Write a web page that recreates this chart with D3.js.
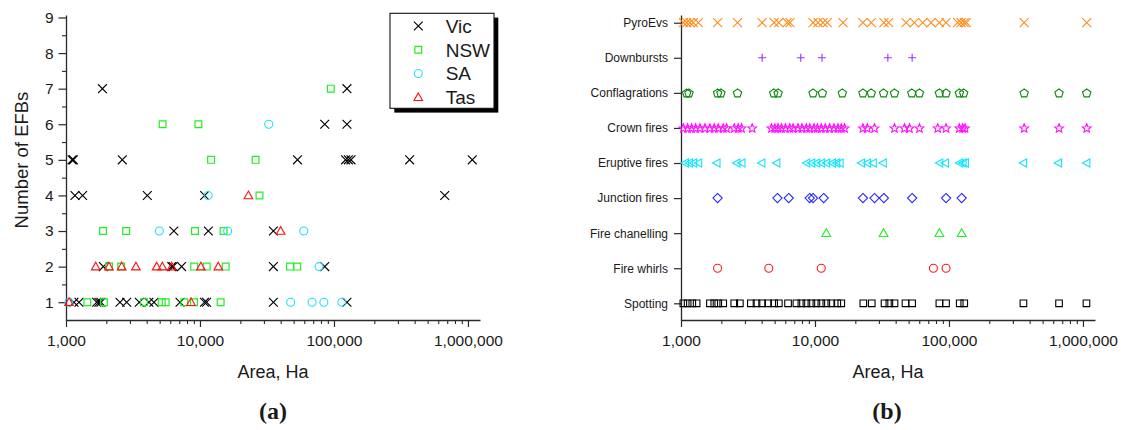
<!DOCTYPE html>
<html><head><meta charset="utf-8">
<script src="https://cdn.jsdelivr.net/npm/d3@7"></script>
<style>
html,body{margin:0;padding:0;background:#fff;}
svg{display:block;font-family:"Liberation Sans",Arial,sans-serif;}
</style></head><body>
<svg id="chart" width="1121" height="430"></svg>
<script>
// ---- shared axis ticks ----
const areaTicks = [1e3, 1e4, 1e5, 1e6];
const areaTickLabels = ["1,000", "10,000", "100,000", "1,000,000"];
const efbTicks = [1, 2, 3, 4, 5, 6, 7, 8, 9];

// ---- panel (a): [area in Ha, number of EFBs] per state ----
const vic = [[1870,7],[125000,7],
  [85300,6],[125000,6],
  [1110,5],[1135,5],[2630,5],[53400,5],[122000,5],[128000,5],[134000,5],[367000,5],[1077000,5],
  [1166,4],[1330,4],[4045,4],[10830,4],[671000,4],
  [6380,3],[11540,3],[35300,3],
  [1900,2],[6150,2],[6300,2],[7290,2],[35300,2],[85300,2],
  [1147,1],[1250,1],[1694,1],[1762,1],[1824,1],[2529,1],[2838,1],[3524,1],[4159,1],[4535,1],
  [7096,1],[10800,1],[11200,1],[35300,1],[125000,1]];
const nsw = [[94700,7],
  [5260,6],[9730,6],
  [12100,5],[26000,5],
  [27800,4],
  [1890,3],[2810,3],[9180,3],[15000,3],
  [2094,2],[2580,2],[9060,2],[11220,2],[15560,2],[47000,2],[53200,2],
  [1443,1],[1920,1],[3819,1],[5177,1],[5546,1],[7640,1],[9020,1],[14260,1]];
const sa = [[32600,6],
  [11500,4],
  [4970,3],[16100,3],[59500,3],
  [77400,2],
  [1050,1],[47500,1],[68700,1],[84000,1],[114600,1]];
const tas = [[23000,4],
  [40000,3],
  [1667,2],[2094,2],[2604,2],[3326,2],[4750,2],[5240,2],[6160,2],[10160,2],[13700,2],
  [1053,1],[8570,1]];
const stateNames = ["Vic", "NSW", "SA", "Tas"];

// ---- panel (b): fire areas (Ha) per phenomenon ----
const categories = ["Spotting", "Fire whirls", "Fire chanelling", "Junction fires",
  "Eruptive fires", "Crown fires", "Conflagrations", "Downbursts", "PyroEvs"];
const spotting = [1041,1121,1214,1308,1644,1771,1897,2066,2496,2750,3322,3660,4033,4468,4954,5370,
  6296,7265,7914,8625,9397,10240,11150,12150,13240,14670,15710,22950,26520,33040,35900,39220,
  47350,53100,84800,95100,120300,130000,359600,663000,1062000];
const fireWhirls = [1875,4520,11150,76500,95100];
const fireChanelling = [12150,32500,84800,124400];
const junctionFires = [1875,5245,6370,9130,9670,11610,22800,27830,32660,53100,95100,124400];
const eruptiveFires = [1071,1147,1235,1346,1844,2597,2830,3987,5155,8625,9397,10240,11150,12150,
  13390,14430,15280,22150,24550,27060,32110,84800,93500,119500,126500,131800,358000,652700,1062000];
const crownFires = [1041,1121,1200,1286,1385,1509,1644,1771,1897,2066,2188,2496,2673,2830,3398,
  4733,5012,5306,5620,6017,6486,6861,7475,8002,8625,9136,9840,10420,11150,11940,12860,13860,
  14840,15710,16640,22800,24550,27830,39220,46560,50720,60220,82450,95100,119500,126500,131800,
  364000,663000,1067000];
const conflagrations = [1102,1147,1875,1985,2642,4926,5306,9670,11350,15990,22800,26300,32500,
  39200,52800,60200,84800,95100,119500,128700,364000,663000,1067000];
const downbursts = [4033,7830,11280,34990,53100];
const pyroEvs = [1041,1102,1167,1235,1346,1875,2642,4033,4954,5370,6200,6500,9670,10540,11480,
  12370,16180,22800,26300,32700,35400,47900,55200,63700,73500,84800,95100,116000,123000,130000,
  135000,364000,1067000];

// ---- marker shapes (size = radius squared) ----
const rad = s => Math.sqrt(s);
const symTimes = {draw(c, s){const r = rad(s); c.moveTo(-r,-r); c.lineTo(r,r); c.moveTo(-r,r); c.lineTo(r,-r);}};
const symPlus = {draw(c, s){const r = rad(s); c.moveTo(-r,0); c.lineTo(r,0); c.moveTo(0,-r); c.lineTo(0,r);}};
const symSquare = {draw(c, s){const r = rad(s); c.rect(-r,-r,2*r,2*r);}};
const symCircle = {draw(c, s){const r = rad(s); c.moveTo(r,0); c.arc(0,0,r,0,2*Math.PI);}};
const symTriUp = {draw(c, s){const r = rad(s); c.moveTo(0,-r); c.lineTo(r*0.98,r*0.74); c.lineTo(-r*0.98,r*0.74); c.closePath();}};
const symTriLeft = {draw(c, s){const r = rad(s); c.moveTo(-r,0); c.lineTo(r*0.85,-r); c.lineTo(r*0.85,r); c.closePath();}};
const symDiamond = {draw(c, s){const r = rad(s); c.moveTo(0,-r); c.lineTo(r,0); c.lineTo(0,r); c.lineTo(-r,0); c.closePath();}};
const symPentagon = {draw(c, s){const r = rad(s);
  for (let k = 0; k < 5; k++){const a = -Math.PI/2 + k*2*Math.PI/5; const px = r*Math.cos(a), py = r*Math.sin(a)+r*0.1;
    if (k === 0) c.moveTo(px,py); else c.lineTo(px,py);} c.closePath();}};
const symStar = {draw(c, s){const r = rad(s), ri = r*0.45;
  for (let k = 0; k < 10; k++){const a = -Math.PI/2 + k*Math.PI/5; const rr = k%2 ? ri : r;
    const px = rr*Math.cos(a), py = rr*Math.sin(a)+r*0.1;
    if (k === 0) c.moveTo(px,py); else c.lineTo(px,py);} c.closePath();}};

const svg = d3.select("#chart");
const axisColor = "#2a2a2a";
const textColor = "#1a1a1a";

function styleAxis(g, fontSize){
  g.attr("color", axisColor);
  g.selectAll("path.domain").attr("stroke-width", 1.3);
  g.selectAll(".tick line").attr("stroke-width", 1.2);
  g.selectAll(".tick text").attr("fill", textColor).attr("font-size", fontSize)
    .attr("font-family", "'Liberation Sans', Arial, sans-serif");
}

function minorDecades(){
  const m = [];
  for (let e = 3; e <= 6; e++) for (let k = 2; k <= 9; k++){ const v = k*Math.pow(10,e); if (v < 1.23e6) m.push(v); }
  return m;
}

function drawSeries(g, data, xs, ys, type, size, color, sw){
  g.append("g").selectAll("path").data(data).join("path")
    .attr("transform", d => `translate(${xs(d[0])},${ys(d[1])})`)
    .attr("d", d3.symbol(type, size))
    .attr("fill", "none").attr("stroke", color).attr("stroke-width", sw || 1.1);
}

// =============== panel (a) ===============
const xL = d3.scaleLog().domain([1000, 1.23e6]).range([66, 480]);
const yL = d3.scaleLinear().domain([0.5, 9.07]).range([320, 15]);
const gA = svg.append("g");

gA.append("g").attr("transform", "translate(0,320)")
  .call(d3.axisBottom(xL).tickValues(minorDecades()).tickSize(4).tickSizeOuter(0).tickFormat(""))
  .call(g => { g.select(".domain").remove(); g.attr("color", axisColor); g.selectAll("line").attr("stroke-width", 1.1); });
gA.append("g").attr("transform", "translate(0,320)")
  .call(d3.axisBottom(xL).tickValues(areaTicks).tickFormat((d, i) => areaTickLabels[i]).tickSize(7).tickSizeOuter(0).tickPadding(8))
  .call(g => styleAxis(g, 15.5));
gA.append("g").attr("transform", "translate(66,0)")
  .call(d3.axisLeft(yL).tickValues(d3.range(1.5, 9, 1)).tickSize(4).tickSizeOuter(0).tickFormat(""))
  .call(g => { g.select(".domain").remove(); g.attr("color", axisColor); g.selectAll("line").attr("stroke-width", 1.1); });
gA.append("g").attr("transform", "translate(66,0)")
  .call(d3.axisLeft(yL).tickValues(efbTicks).tickFormat(d3.format("d")).tickSize(7.5).tickSizeOuter(0).tickPadding(5))
  .call(g => styleAxis(g, 15.5));

const stateStyles = [
  {data: vic, type: symTimes, size: 4.4*4.4, color: "#000000", sw: 1.15},
  {data: nsw, type: symSquare, size: 3.4*3.4, color: "#22ee22", sw: 1.2},
  {data: sa, type: symCircle, size: 4.0*4.0, color: "#22ddff", sw: 1.1},
  {data: tas, type: symTriUp, size: 4.4*4.4, color: "#ff1111", sw: 1.1}
];
stateStyles.forEach(s => drawSeries(gA, s.data, xL, yL, s.type, s.size, s.color, s.sw));

gA.append("text").attr("x", 273).attr("y", 378).attr("text-anchor", "middle")
  .attr("font-size", 18).attr("fill", textColor).text("Area, Ha");
gA.append("text").attr("transform", "translate(28,160) rotate(-90)").attr("text-anchor", "middle")
  .attr("font-size", 18.5).attr("fill", textColor).text("Number of EFBs");

// legend
const leg = gA.append("g");
leg.append("rect").attr("x", 394.3).attr("y", 17.6).attr("width", 104).attr("height", 95).attr("fill", "#000");
leg.append("rect").attr("x", 390).attr("y", 13.3).attr("width", 104).attr("height", 95)
  .attr("fill", "#fff").attr("stroke", "#111").attr("stroke-width", 1.1);
const legRowY = d3.scalePoint().domain(stateNames).range([26, 97.3]);
stateStyles.forEach((s, i) => {
  const yy = legRowY(stateNames[i]);
  leg.append("path").attr("transform", `translate(418.3,${yy})`).attr("d", d3.symbol(s.type, s.size))
    .attr("fill", "none").attr("stroke", s.color).attr("stroke-width", s.sw);
  leg.append("text").attr("x", 445.7).attr("y", yy).attr("dy", "0.36em")
    .attr("font-size", 19).attr("fill", textColor).text(stateNames[i]);
});

gA.append("text").attr("x", 273).attr("y", 419).attr("text-anchor", "middle")
  .attr("font-family", "'Liberation Serif', 'DejaVu Serif', serif").attr("font-weight", "bold")
  .attr("font-size", 24).attr("fill", textColor).text("(a)");

// =============== panel (b) ===============
const xR = d3.scaleLog().domain([1000, 1.23e6]).range([681, 1095]);
const yR = d3.scaleLinear().domain([-0.476, 8.22]).range([320, 15]);
const gB = svg.append("g");

gB.append("g").attr("transform", "translate(0,320)")
  .call(d3.axisBottom(xR).tickValues(minorDecades()).tickSize(4).tickSizeOuter(0).tickFormat(""))
  .call(g => { g.select(".domain").remove(); g.attr("color", axisColor); g.selectAll("line").attr("stroke-width", 1.1); });
gB.append("g").attr("transform", "translate(0,320)")
  .call(d3.axisBottom(xR).tickValues(areaTicks).tickFormat((d, i) => areaTickLabels[i]).tickSize(7).tickSizeOuter(0).tickPadding(8))
  .call(g => styleAxis(g, 15.5));
gB.append("g").attr("transform", "translate(681,0)")
  .call(d3.axisLeft(yR).tickValues(d3.range(categories.length)).tickFormat(i => categories[i]).tickSize(7).tickSizeOuter(0).tickPadding(6))
  .call(g => styleAxis(g, 12));

const phenStyles = [
  {data: spotting, type: symSquare, size: 3.3*3.3, color: "#000000"},
  {data: fireWhirls, type: symCircle, size: 4.0*4.0, color: "#ff1a1a"},
  {data: fireChanelling, type: symTriUp, size: 4.5*4.5, color: "#22ee22"},
  {data: junctionFires, type: symDiamond, size: 4.6*4.6, color: "#2626ff"},
  {data: eruptiveFires, type: symTriLeft, size: 4.0*4.0, color: "#11e5ff"},
  {data: crownFires, type: symStar, size: 4.6*4.6, color: "#ff11ff"},
  {data: conflagrations, type: symPentagon, size: 4.4*4.4, color: "#0a8a0a"},
  {data: downbursts, type: symPlus, size: 4.0*4.0, color: "#9933ff"},
  {data: pyroEvs, type: symTimes, size: 4.5*4.5, color: "#ff8c1a"}
];
phenStyles.forEach((s, i) => drawSeries(gB, s.data.map(v => [v, i]), xR, yR, s.type, s.size, s.color, 1.1));

gB.append("text").attr("x", 888).attr("y", 378).attr("text-anchor", "middle")
  .attr("font-size", 18).attr("fill", textColor).text("Area, Ha");
gB.append("text").attr("x", 887).attr("y", 419).attr("text-anchor", "middle")
  .attr("font-family", "'Liberation Serif', 'DejaVu Serif', serif").attr("font-weight", "bold")
  .attr("font-size", 24).attr("fill", textColor).text("(b)");
</script></body></html>
